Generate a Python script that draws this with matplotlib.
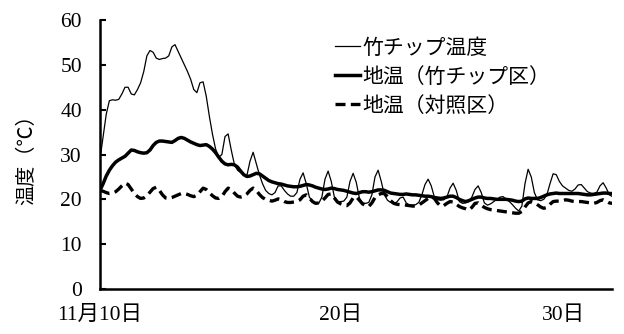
import numpy as np
import matplotlib
matplotlib.use("Agg")
import matplotlib.pyplot as plt
from matplotlib.transforms import ScaledTranslation

plt.rcParams['font.family'] = ['Liberation Serif', 'Noto Sans CJK JP']

# Readings every 3 hours starting 11/10 00:00 (one row per day)
chip_temp = [
    29, 34, 39, 42, 42.2, 42.1, 42.3, 43.5,
    45, 45, 43.5, 43.3, 44.5, 46, 48.5, 52,
    53.2, 52.8, 51.5, 51.2, 51.4, 51.5, 52, 54,
    54.5, 53, 51.5, 50, 48.5, 46.8, 44.5, 43.8,
    46, 46.2, 43, 38.5, 34.5, 31.2, 29.4, 30,
    34, 34.6, 31, 27.8, 26.5, 26, 25.4, 25.3,
    28.5, 30.5, 28, 25.5, 23.5, 22, 21.3, 21,
    21.5, 23, 23, 22, 21.2, 20.7, 20.7, 21.5,
    24.5, 25.9, 23.5, 20.5, 19.6, 19.2, 19.1, 20.5,
    24.5, 26.3, 24, 20.5, 19.5, 19.5, 19.6, 20.5,
    24, 25.8, 23.8, 20.3, 19.2, 19.1, 19.3, 21,
    25, 26.5, 24, 21, 19.8, 19.3, 19.1, 19.4,
    20.3, 20.5, 19.2, 18.7, 18.7, 18.8, 19.3, 21,
    23.3, 24.5, 23, 20.5, 19.9, 19.8, 19.9, 20.5,
    22.5, 23.6, 22, 19.5, 19.1, 19.2, 19.5, 20.5,
    22.2, 23, 21.5, 19.2, 18.7, 19, 19.5, 20,
    20.5, 20.6, 20, 19.5, 18.8, 18, 17.4, 18.5,
    23.5, 26.7, 25, 21.5, 19.9, 19.7, 20, 21,
    23.5, 25.7, 25.5, 24, 23, 22.5, 22, 21.8,
    22.3, 23.2, 23.3, 22.5, 21.7, 21.4, 21.3, 21.6,
    23, 23.7, 22.5, 21, 20.6,
]

soil_chip = [
    22, 23.5, 25.2, 26.5, 27.5, 28.3, 28.8, 29.2,
    29.6, 30.3, 31, 30.9, 30.6, 30.4, 30.3, 30.4,
    31, 32, 32.7, 33, 33, 32.9, 32.8, 32.7,
    33.1, 33.6, 33.8, 33.6, 33.2, 32.8, 32.5, 32.2,
    32, 32.1, 32.2, 31.8, 31.2, 30.4, 29.4, 28.5,
    27.9, 27.7, 27.8, 27.7, 27.2, 26.3, 25.5, 25.1,
    25.2, 25.5, 25.8, 25.7, 25.2, 24.7, 24.2, 23.9,
    23.7, 23.5, 23.4, 23.2, 23, 22.9, 22.8, 22.8,
    22.9, 23.1, 23.3, 23.2, 23, 22.7, 22.5, 22.3,
    22.2, 22.3, 22.5, 22.4, 22.2, 22.1, 22, 21.8,
    21.6, 21.4, 21.3, 21.5, 21.7, 21.7, 21.6, 21.7,
    21.9, 22.1, 22.1, 22, 21.7, 21.4, 21.3, 21.2,
    21.1, 21.1, 21.2, 21.1, 21, 21, 20.9, 20.8,
    20.7, 20.7, 20.6, 20.4, 20.3, 20.2, 20.3, 20.5,
    20.7, 20.7, 20.4, 20, 19.7, 19.5, 19.7, 20,
    20.3, 20.5, 20.5, 20.3, 20.2, 20.2, 20.1, 20,
    20, 20, 20, 19.9, 19.8, 19.6, 19.5, 19.6,
    20.1, 20.3, 20.2, 20.2, 20.2, 20.4, 20.7, 21,
    21.2, 21.3, 21.4, 21.3, 21.3, 21.3, 21.3, 21.3,
    21.3, 21.3, 21.2, 21.1, 21, 21, 21.1, 21.2,
    21.3, 21.4, 21.4, 21.3, 21.3,
]

soil_control = [
    22, 21.8, 21.5, 21.3, 21.4, 21.7, 22.3, 23,
    23.6, 23.3, 22.3, 21.3, 20.6, 20.2, 20.3, 20.8,
    21.6, 22.4, 22.7, 22, 21, 20.3, 20.2, 20.4,
    20.7, 21, 21.3, 21.3, 21.1, 20.8, 20.6, 20.9,
    21.7, 22.5, 22.2, 21.5, 20.8, 20.3, 20.2, 20.6,
    21.7, 22.5, 22.2, 21.4, 20.7, 20.5, 20.7, 21.2,
    22, 22.5, 22, 21.1, 20.4, 20, 19.8, 19.6,
    19.8, 20.1, 19.9, 19.5, 19.3, 19.3, 19.4, 19.5,
    19.9, 20.7, 21, 20.3, 19.5, 19.1, 19.2, 19.6,
    20.3, 21.1, 21.2, 20.3, 19.4, 19, 18.7, 18.6,
    19.2, 20.3, 20.6, 19.8, 19, 18.6, 18.4, 19.2,
    20.4, 21, 21.3, 21.3, 20.6, 19.7, 19.1, 18.9,
    18.8, 18.8, 18.7, 18.6, 18.5, 18.5, 18.7, 19.2,
    19.7, 20.2, 20.6, 20.2, 19.2, 18.5, 18.6, 19.1,
    19.5, 19.4, 18.9, 18.4, 18.1, 17.9, 17.6, 18.2,
    19.1, 19.2, 18.7, 18.2, 17.9, 17.7, 17.6, 17.5,
    17.4, 17.3, 17.2, 17.1, 17, 16.9, 16.9, 17.3,
    18.3, 19.2, 19.5, 19.3, 18.8, 18.3, 18, 18.2,
    18.9, 19.5, 19.6, 19.6, 19.7, 19.9, 19.8, 19.6,
    19.5, 19.5, 19.5, 19.4, 19.3, 19.2, 19.1, 19.3,
    19.7, 19.9, 19.6, 19.2, 19.1,
]

series_labels = ['竹チップ温度', '地温（竹チップ区）', '地温（対照区）']
start_day = 10          # 11月10日
step_hours = 3
# positions (in days) where the date labels sit along the axis
date_label_pos = [10, 19.64, 28.52]
date_labels = ['11月10日', '20日', '30日']
y_ticks = [0, 10, 20, 30, 40, 50, 60]

day = start_day + np.arange(len(chip_temp)) * step_hours / 24.0

W, H = 624, 334
fig = plt.figure(figsize=(W / 100, H / 100), dpi=100)
ax = fig.add_axes([100 / W, 1 - 289 / H, 512 / W, 269 / H])

ax.plot(day, chip_temp, color='black', lw=0.9, label=series_labels[0])
ax.plot(day, soil_chip, color='black', lw=2.5, label=series_labels[1])
ax.plot(day, soil_control, color='black', lw=2.4, dashes=(3, 1.6),
        label=series_labels[2])

ax.set_yticks(y_ticks)
ax.set_xticks(date_label_pos)
ax.set_xticklabels(date_labels)
ax.set_xlim(start_day, start_day + 512 / 25.0)
ax.set_ylim(0, 60)

# the first date label hangs slightly left of the axis origin
first = ax.get_xticklabels()[0]
first.set_transform(first.get_transform()
                    + ScaledTranslation(-8 / 100, 0, fig.dpi_scale_trans))

for side in ('top', 'right'):
    ax.spines[side].set_visible(False)
for side in ('left', 'bottom'):
    ax.spines[side].set_linewidth(1.8)

ax.tick_params(axis='y', direction='in', length=4.5, width=1.5,
               labelsize=15.5, pad=13)
ax.tick_params(axis='x', length=0, labelsize=15.5, pad=12)

ax.set_ylabel('温度（℃）', fontsize=14.5)
ax.yaxis.set_label_coords(-63 / 512, 0.5)

leg = ax.legend(loc='upper left', bbox_to_anchor=(335 / W, 1 - 39 / H),
                bbox_transform=fig.transFigure, frameon=False,
                fontsize=15, handlelength=1.2, handletextpad=0.1,
                labelspacing=0.44, borderpad=0, borderaxespad=0)

fig.savefig('out.png', dpi=100)
